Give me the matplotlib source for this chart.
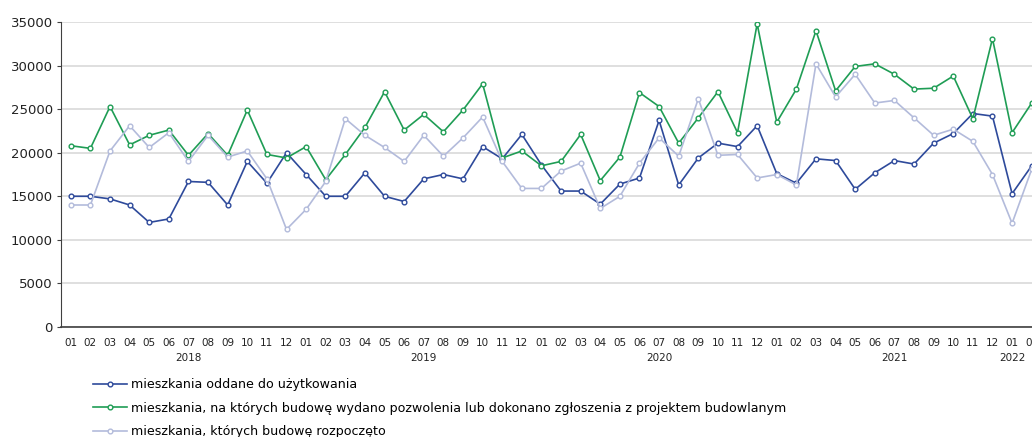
import matplotlib
matplotlib.use("Agg")
import matplotlib.pyplot as plt
import matplotlib.transforms as mtransforms

# months 2018-01 .. 2022-02
months = ["01", "02", "03", "04", "05", "06", "07", "08", "09", "10", "11", "12"] * 4 + ["01", "02"]
years = ["2018", "2019", "2020", "2021", "2022"]
year_pos = [6, 18, 30, 42, 48]

oddane = [15000, 15000, 14700, 14000, 12000, 12400, 16700, 16600, 14000, 19000, 16500, 20000,
          17500, 15000, 15000, 17700, 15000, 14400, 17000, 17500, 17000, 20700, 19300, 22100,
          18600, 15600, 15600, 14100, 16400, 17100, 23700, 16300, 19400, 21100, 20700, 23100,
          17600, 16500, 19300, 19100, 15800, 17700, 19100, 18700, 21100, 22200, 24500, 24200,
          15300, 18500]
pozwolenia = [20800, 20500, 25300, 20900, 22000, 22600, 19700, 22200, 19700, 24900, 19800, 19400,
              20700, 16900, 19800, 22900, 27000, 22600, 24400, 22400, 24900, 27900, 19400, 20200,
              18500, 19000, 22100, 16800, 19500, 26900, 25300, 21100, 24000, 27000, 22300, 34800,
              23500, 27300, 34000, 27100, 29900, 30200, 29000, 27300, 27400, 28800, 23900, 33100,
              22300, 25700]
rozpoczete = [14000, 14000, 20200, 23100, 20600, 22300, 19000, 22000, 19500, 20200, 17000, 11200,
              13500, 16700, 23900, 22000, 20600, 19000, 22000, 19600, 21700, 24100, 19000, 15900,
              15900, 17900, 18800, 13600, 15000, 18800, 21700, 19600, 26200, 19700, 19800, 17100,
              17500, 16300, 30200, 26400, 29000, 25700, 26000, 24000, 22000, 22700, 21300, 17500,
              11900, 18100]

labels = ["mieszkania oddane do użytkowania",
          "mieszkania, na których budowę wydano pozwolenia lub dokonano zgłoszenia z projektem budowlanym",
          "mieszkania, których budowę rozpoczęto"]
colors = ["#2E4A9B", "#1F9D55", "#B3BBDB"]

plt.rcParams['font.family'] = ['DejaVu Sans']

fig = plt.figure(figsize=(10.32, 4.37), dpi=100)
W, H = 1032, 437
left, right, top, bottom = 61, 1041.5, 22, 327
ax = fig.add_axes([left / W, (H - bottom) / H, (right - left) / W, (bottom - top) / H])

x = list(range(len(months)))
for vals, col, lab in zip([oddane, pozwolenia, rozpoczete], colors, labels):
    ax.plot(x, vals, color=col, lw=1.2, marker="o", ms=3.4, mfc="white", mec=col, mew=1.0,
            label=lab)

ax.set_xlim(-0.5, len(months) - 0.5)
ax.set_ylim(0, 35000)
ax.set_yticks(range(0, 35001, 5000))
ax.yaxis.grid(True, color="#D9D9D9", lw=1.2)
ax.set_axisbelow(True)
for s in ["top", "right"]:
    ax.spines[s].set_visible(False)
ax.spines["left"].set_color("#404040")
ax.spines["bottom"].set_color("#404040")
ax.spines["bottom"].set_linewidth(1.2)
ax.tick_params(axis="y", labelsize=9.5, length=3, color="#404040", labelcolor="#222222", pad=3)
ax.set_xticks(x)
ax.set_xticklabels(months, fontsize=7.5, color="#222222")
ax.tick_params(axis="x", length=0, pad=8)

trans = mtransforms.blended_transform_factory(ax.transData, ax.transAxes)
for yr, p in zip(years, year_pos):
    ax.text(p, -0.085, yr, transform=trans, ha="center", va="top", fontsize=7.5, color="#222222")

fig.legend(loc="upper left", bbox_to_anchor=(93 / W, (H - 378) / H), frameon=False,
           fontsize=9.1, handlelength=2.7, handletextpad=0.3, labelspacing=0.85,
           borderaxespad=0, borderpad=0)

fig.savefig("out.png", dpi=100)
